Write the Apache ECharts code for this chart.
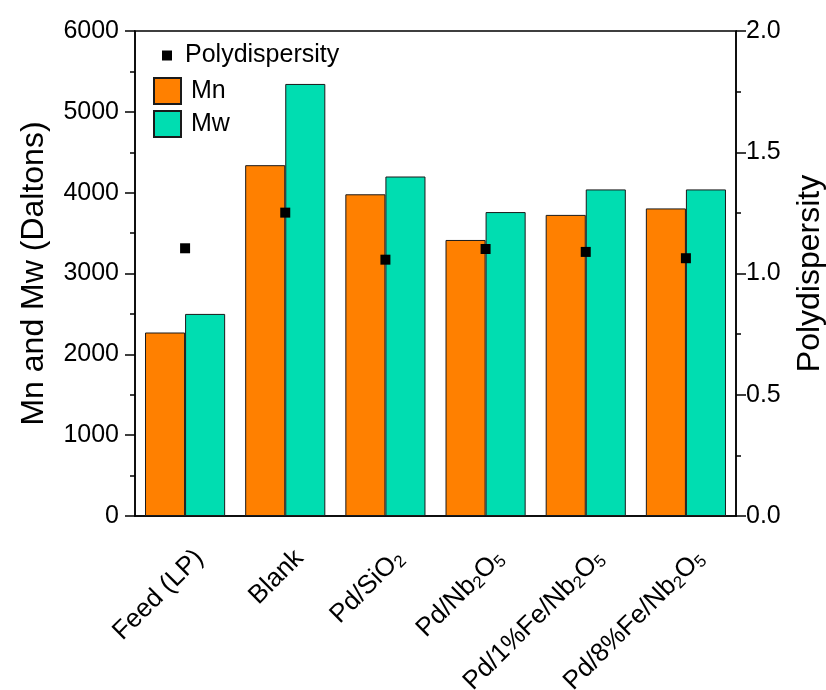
<!DOCTYPE html>
<html>
<head>
<meta charset="utf-8">
<script src="https://cdn.jsdelivr.net/npm/echarts@6/dist/echarts.min.js"></script>
<style>
  html, body { margin: 0; padding: 0; background: #fff; }
  #chart { width: 826px; height: 690px; }
</style>
</head>
<body>
<div id="chart"></div>
<script>
// categories (digits after element symbols become subscripts)
const categories = ['Feed (LP)', 'Blank', 'Pd/SiO2', 'Pd/Nb2O5', 'Pd/1%Fe/Nb2O5', 'Pd/8%Fe/Nb2O5'];
const mnValues = [2270, 4340, 3980, 3415, 3725, 3805];
const mwValues = [2500, 5345, 4200, 3760, 4040, 4040];
const polydispersity = [1.104, 1.251, 1.057, 1.101, 1.089, 1.063];

const FONT = '"Liberation Sans", Arial, sans-serif';
const MN_COLOR = '#FF8000';
const MW_COLOR = '#00DDB1';

function labelFormatter(value) {
  return value.replace(/([A-Za-z])(\d)/g, function (m, a, d) {
    return a + '{sub|' + d + '}';
  });
}

const tickStyle = { color: '#000', width: 1.5 };

const chart = echarts.init(document.getElementById('chart'));

chart.setOption({
  animation: false,
  textStyle: { fontFamily: FONT, color: '#000' },
  grid: {
    left: 135, right: 90, top: 31, bottom: 174,
    containLabel: false, outerBoundsMode: 'none',
    show: true, borderColor: '#000', borderWidth: 1.5, backgroundColor: 'transparent'
  },
  legend: [
    {
      data: [{ name: 'Polydispersity', icon: 'rect', itemStyle: { color: '#000', opacity: 1 } }],
      left: 162, top: 43, padding: 0,
      itemWidth: 10, itemHeight: 10,
      textStyle: { fontFamily: FONT, fontSize: 25, color: '#000', padding: [0, 0, 0, 8] }
    },
    {
      data: [{ name: 'Mn', icon: 'rect' }, { name: 'Mw', icon: 'rect' }],
      orient: 'vertical',
      left: 153, top: 77, padding: 0,
      itemWidth: 27, itemHeight: 26, itemGap: 5,
      textStyle: { fontFamily: FONT, fontSize: 25, color: '#000', padding: [0, 0, 0, 5] }
    }
  ],
  xAxis: [
    {
      type: 'category',
      data: categories,
      axisLine: { lineStyle: tickStyle },
      axisTick: { inside: false, alignWithLabel: true, length: 9, lineStyle: tickStyle },
      axisLabel: {
        rotate: 45,
        margin: 24,
        padding: [40, 0, 0, 0],
        fontSize: 26,
        color: '#000',
        fontFamily: FONT,
        formatter: labelFormatter,
        rich: {
          sub: { fontSize: 17, fontFamily: FONT, color: '#000', verticalAlign: 'bottom', padding: [12, 0, 0, 0] }
        }
      }
    },
    {
      type: 'category',
      data: categories,
      position: 'bottom',
      axisLine: { show: false },
      axisTick: { inside: false, length: 5, lineStyle: tickStyle },
      axisLabel: { show: false }
    }
  ],
  yAxis: [
    {
      type: 'value',
      min: 0, max: 6000, interval: 1000,
      name: 'Mn and Mw (Daltons)',
      nameLocation: 'middle',
      nameGap: 85,
      nameTextStyle: { fontSize: 32, fontFamily: FONT, color: '#000' },
      axisLine: { show: true, lineStyle: tickStyle },
      axisTick: { show: true, inside: false, length: 10, lineStyle: tickStyle },
      minorTick: { show: true, splitNumber: 2, length: 5, lineStyle: tickStyle },
      axisLabel: {
        fontSize: 25, color: '#000', fontFamily: FONT, margin: 16,
        formatter: function (v) { return String(v); }
      },
      splitLine: { show: false },
      minorSplitLine: { show: false }
    },
    {
      type: 'value',
      min: 0, max: 2, interval: 0.5,
      name: 'Polydispersity',
      nameLocation: 'middle',
      nameGap: 58,
      nameRotate: 90,
      nameTextStyle: { fontSize: 32, fontFamily: FONT, color: '#000' },
      axisLine: { show: true, lineStyle: tickStyle },
      axisTick: { show: true, inside: false, length: 10, lineStyle: tickStyle },
      minorTick: { show: true, splitNumber: 2, length: 5, lineStyle: tickStyle },
      axisLabel: {
        fontSize: 25, color: '#000', fontFamily: FONT, margin: 10,
        formatter: function (v) { return v.toFixed(1); }
      },
      splitLine: { show: false },
      minorSplitLine: { show: false }
    }
  ],
  series: [
    {
      name: 'Mn',
      type: 'bar',
      xAxisIndex: 0, yAxisIndex: 0,
      data: mnValues,
      barWidth: '40%',
      barGap: '0%',
      itemStyle: { color: MN_COLOR, borderColor: '#1a1a1a', borderWidth: 1 }
    },
    {
      name: 'Mw',
      type: 'bar',
      xAxisIndex: 0, yAxisIndex: 0,
      data: mwValues,
      barWidth: '40%',
      barGap: '0%',
      itemStyle: { color: MW_COLOR, borderColor: '#1a1a1a', borderWidth: 1 }
    },
    {
      name: 'Polydispersity',
      type: 'scatter',
      xAxisIndex: 0, yAxisIndex: 1,
      data: polydispersity,
      symbol: 'rect',
      symbolSize: 10,
      z: 5,
      itemStyle: { color: '#000', opacity: 1 }
    }
  ]
});
</script>
</body>
</html>
